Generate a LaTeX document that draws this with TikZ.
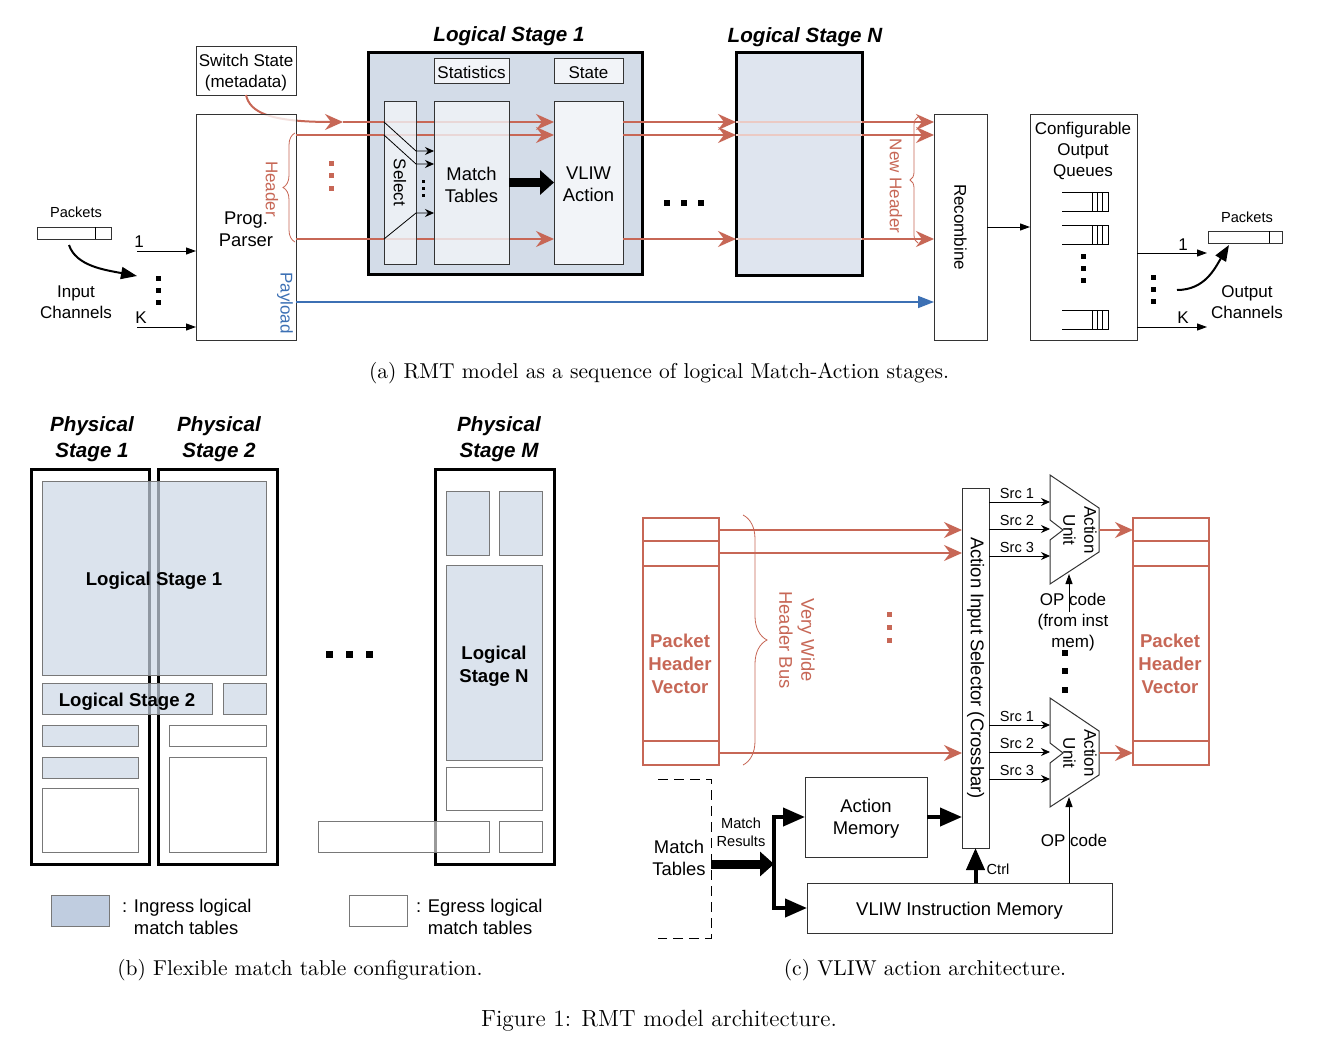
\documentclass[tikz,border=0pt]{standalone}
\usepackage{fontspec}
\setsansfont{Liberation Sans}
\usetikzlibrary{arrows.meta,fit,decorations.pathreplacing}
\begin{document}
\begin{tikzpicture}[x=0.5pt,y=-0.5pt,
  every node/.style={inner sep=0pt,outer sep=0pt},
  lblr/.style={font=\sffamily\fontsize{9.2}{11}\selectfont,align=center},
  midr/.style={font=\sffamily\fontsize{8.5}{10.5}\selectfont,align=center},
  lbl/.style={lblr,yshift=-1pt},
  mid/.style={midr,yshift=-1pt},
  sml/.style={font=\sffamily\fontsize{7.3}{9}\selectfont,align=center},
  bfont/.style={font=\sffamily\bfseries\fontsize{9.3}{11.5}\selectfont,align=center,yshift=-1.5pt},
  ttl/.style={font=\sffamily\bfseries\itshape\fontsize{10.3}{13}\selectfont,align=center,yshift=-1pt},
  captxt/.style={font=\rmfamily\fontsize{10.75}{13}\selectfont,yshift=-1pt},
  box/.style={draw=black!80,line width=0.5pt,fill=white},
  stg/.style={draw=black,line width=1.5pt},
  ing/.style={draw=edgeColor,line width=0.5pt,fill=ingFill,fill opacity=0.7,text opacity=1},
  egr/.style={draw=edgeColor,line width=0.5pt,fill=white},
  hdr/.style={draw=hdrColor,line width=1pt,-{Stealth[length=9pt,width=8pt,inset=3pt]}},
  pay/.style={draw=plColor,line width=0.8pt,-{Triangle[length=8pt,width=6pt]}},
  blk/.style={draw=black,line width=0.5pt,-{Triangle[length=5pt,width=3.5pt]}},
  sarr/.style={draw=black,line width=0.4pt,-{Stealth[length=4.5pt,width=4pt,inset=1.5pt]}},
  crv/.style={draw=black,line width=1pt,-{Triangle[length=8pt,width=6pt]}},
  fat/.style={draw=black,line width=2pt,-{Triangle[length=11pt,width=9pt]}},
  fatwide/.style={draw=black,line width=4.5pt,-{Triangle[length=7pt,width=12pt]}},
  brc/.style={draw=hdrColor,line width=0.4pt,decorate}]
\definecolor{hdrColor}{RGB}{199,103,86}
\definecolor{plColor}{RGB}{60,112,180}
\definecolor{ls1Fill}{RGB}{211,220,232}
\definecolor{lsnFill}{RGB}{223,229,239}
\definecolor{inFill}{RGB}{242,244,248}
\definecolor{ingFill}{RGB}{205,216,230}
\definecolor{legFill}{RGB}{192,205,224}
\definecolor{edgeColor}{RGB}{120,120,120}
\path[use as bounding box,fill=white] (0,0) rectangle (1318,1044);
\begin{scope}

\node[ttl] (ls1t) at (509,34) {Logical Stage 1};

\node[ttl] (lsnt) at (805,35) {Logical Stage N};

\node[box,fit={(196,46) (296,95)}] (sw) {};

\node[mid] (swt) at (sw.center) {Switch State\\(metadata)};

\coordinate (mIn) at (343,122);

\draw[hdr] (sw.south) .. controls (250,112) and (268,122) .. (mIn);

\node[box,fill opacity=0.8,fit={(196,114) (296,340)}] (parser) {};

\node[lbl] (parsert) at (parser.center) {Prog.\\Parser};

\node[box,stg,fill=ls1Fill,fit={(368,52) (642,274)}] (ls1) {};

\node[box,fill=inFill,fit={(434,58) (509,83)}] (stats) {};

\node[mid] (statst) at (stats.center) {Statistics};

\node[box,fill=inFill,fit={(554,58) (623,83)}] (state) {};

\node[mid] (statet) at (state.center) {State};

\node[box,fill=inFill,fit={(554,101) (623,264)}] (vliw) {};

\node[lbl] (vliwt) at (vliw.center) {VLIW\\Action};

\coordinate (h1) at (0,122);
\coordinate (h2) at (0,135);
\coordinate (h3) at (0,239);

\draw[hdr] (mIn) -- (vliw.west |- h1);

\foreach \r in {h2,h3}
  \draw[hdr] (parser.east |- \r) -- (vliw.west |- \r);

\node[box,fill=inFill,fill opacity=0.8,fit={(384,101) (416,264)}] (sel) {};

\node[midr,rotate=-90] (selt) at (sel.center) {Select};

\node[box,fill=inFill,fill opacity=0.8,fit={(434,101) (509,264)}] (mt) {};

\node[lbl] (mtt) at (mt.center) {Match\\Tables};

\coordinate (s1) at (0,151);
\coordinate (s2) at (0,164);
\coordinate (s3) at (0,213);

\draw[sarr] (sel.west |- h1) -- (sel.east |- s1) -- (mt.west |- s1);

\draw[sarr] (sel.west |- h2) -- (sel.east |- s2) -- (mt.west |- s2);

\draw[sarr] (sel.west |- h3) -- (sel.east |- s3) -- (mt.west |- s3);

\foreach \y in {181,188,195}
  \fill (421.5,\y-1.5) rectangle ++(3,3);

\draw[fatwide] (mt.east) -- (vliw.west);

\draw[brc,decoration={brace,amplitude=6pt}] (295,242) -- (295,133);

\node[midr,rotate=-90,text=hdrColor] (hdrt) at (272,189) {Header};

\node[midr,rotate=-90,text=plColor] (plt) at (285,303) {Payload};

\foreach \y in {163,175,188}
  \fill[hdrColor] (328.5,\y-2.5) rectangle ++(5,5);

\node[box,stg,fill=lsnFill,fit={(736,52) (862,275)}] (lsn) {};

\node[box,fit={(934,114) (987,340)}] (rec) {};

\node[midr,rotate=-90] (rect) at (rec.center) {Recombine};

\foreach \r in {h1,h2,h3} {
  \draw[hdr] (vliw.east |- \r) -- (lsn.west |- \r);
  \draw[hdrColor!35,line width=1pt] (lsn.west |- \r) -- (lsn.east |- \r);
  \draw[hdr] (lsn.east |- \r) -- (rec.west |- \r);
}

\foreach \x in {667,684,701}
  \fill (\x-3,200) rectangle ++(6,6);

\draw[brc,decoration={brace,amplitude=4pt}] (918,243) -- (918,117);

\node[midr,rotate=-90,text=hdrColor] (nht) at (896,186) {New Header};

\coordinate (pl) at (0,302);

\draw[pay] (parser.east |- pl) -- (rec.west |- pl);

\node[sml] (pkin) at (76,212) {Packets};

\node[box,line width=0.4pt,fit={(37,227) (111,239)}] (pin) {};

\draw[line width=0.4pt] ([xshift=-8pt]pin.north east) -- ([xshift=-8pt]pin.south east);

\coordinate (cin) at (137,276);

\draw[crv] ([xshift=-2.5pt,yshift=-3pt]pin.south) .. controls (76,266) and (105,270) .. (cin);

\node[mid] (intxt) at (76,300) {Input\\Channels};

\coordinate (i1) at (137,251);
\coordinate (iK) at (137,327);

\draw[blk] (i1) -- (parser.west |- i1);

\draw[blk] (iK) -- (parser.west |- iK);

\node[midr] (i1t) at (139,242) {1};

\node[midr] (iKt) at (141,318) {K};

\foreach \y in {278,290,302}
  \fill (155.5,\y-2.5) rectangle ++(5,5);

\node[box,fit={(1030,114) (1137,340)}] (oq) {};

\node[mid] (oqt) at (1083,149) {Configurable\\Output\\Queues};

\draw[blk] (rec.east) -- (oq.west);

\foreach \t in {192,225,310} {
  \draw[line width=0.4pt] (1062,\t) -- (1108,\t) -- (1108,\t+19) -- (1062,\t+19);
  \foreach \q in {1092,1097,1102}
    \draw[line width=0.4pt] (\q,\t) -- (\q,\t+19);
}

\foreach \y in {256,268,280}
  \fill (1080.5,\y-2.5) rectangle ++(5,5);

\coordinate (o1) at (1207,253);
\coordinate (oK) at (1207,327);

\draw[blk] (oq.east |- o1) -- (o1);

\draw[blk] (oq.east |- oK) -- (oK);

\node[midr] (o1t) at (1183,245) {1};

\node[midr] (oKt) at (1183,318) {K};

\foreach \y in {277,289,301}
  \fill (1150.5,\y-2.5) rectangle ++(5,5);

\node[sml] (pkout) at (1247,217) {Packets};

\node[box,line width=0.4pt,fit={(1208,231) (1282,243)}] (pout) {};

\draw[line width=0.4pt] ([xshift=-6.5pt]pout.north east) -- ([xshift=-6.5pt]pout.south east);

\coordinate (cout) at (1177,290);

\draw[crv] (cout) .. controls (1205,290) and (1215,268) .. ([xshift=-8pt,yshift=-1pt]pout.south);

\node[mid] (outt) at (1247,300) {Output\\Channels};

\node[captxt] (capa) at (659,371) {(a) RMT model as a sequence of logical Match-Action stages.};
\end{scope}
\begin{scope}

\node[ttl] (ps1t) at (92,437) {Physical\\Stage 1};

\node[ttl] (ps2t) at (219,437) {Physical\\Stage 2};

\node[ttl] (psmt) at (499,437) {Physical\\Stage M};

\node[stg,fit={(31,469) (149,864)}] (ps1) {};

\node[stg,fit={(158,469) (277,864)}] (ps2) {};

\node[stg,fit={(435,469) (554,864)}] (psm) {};

\node[ing,fit={(42,481) (266,675)}] (l1) {};

\node[bfont] (l1t) at (l1.center) {Logical Stage 1};

\node[ing,fit={(42,683) (212,714)}] (l2) {};

\node[bfont] (l2t) at (l2.center) {Logical Stage 2};

\node[ing,fit={(223,683) (266,714)}] (l2b) {};

\node[ing,fit={(42,725) (138,746)}] (p1a) {};

\node[ing,fit={(42,757) (138,778)}] (p1b) {};

\node[egr,fit={(42,788) (138,852)}] (p1c) {};

\node[egr,fit={(169,725) (266,746)}] (p2a) {};

\node[egr,fit={(169,757) (266,852)}] (p2b) {};

\node[ing,fit={(446,491) (489,555)}] (pma) {};

\node[ing,fit={(499,491) (542,555)}] (pmb) {};

\node[ing,fit={(446,565) (542,760)}] (ln) {};

\node[bfont,yshift=-0.5pt] (lnt) at (ln.center) {Logical\\Stage N};

\node[egr,fit={(446,767) (542,810)}] (pmc) {};

\node[egr,fill opacity=0.6,fit={(318,821) (489,852)}] (pmd) {};

\node[egr,fit={(499,821) (542,852)}] (pme) {};

\foreach \x in {329,349,369}
  \fill (\x-3.5,650.5) rectangle ++(7,7);

\node[draw=edgeColor,line width=0.5pt,fill=legFill,fit={(51,895) (109,926)}] (legi) {};

\node[lblr,align=left,anchor=west] (legit) at (122,917) {: Ingress logical\\\phantom{: }match tables};

\node[egr,fit={(349,895) (407,926)}] (lege) {};

\node[lblr,align=left,anchor=west] (leget) at (416,917) {: Egress logical\\\phantom{: }match tables};

\node[captxt] (capb) at (300,968) {(b) Flexible match table configuration.};
\end{scope}
\begin{scope}

\node[draw=hdrColor,line width=1.1pt,fit={(643,518) (719,765)}] (phvl) {};

\node[draw=hdrColor,line width=1.1pt,fit={(1133,518) (1209,765)}] (phvr) {};

\foreach \y in {541,566,741} {
  \draw[hdrColor,line width=1.1pt] (phvl.west |- 0,\y) -- (phvl.east |- 0,\y);
  \draw[hdrColor,line width=1.1pt] (phvr.west |- 0,\y) -- (phvr.east |- 0,\y);
}

\node[bfont,text=hdrColor] (phvlt) at (680,661) {Packet\\Header\\Vector};

\node[bfont,text=hdrColor] (phvrt) at (1170,661) {Packet\\Header\\Vector};

\node[box,fit={(962,488) (989,848)}] (xbar) {};

\node[lblr,rotate=-90] (xbart) at (xbar.center) {Action Input Selector (Crossbar)};

\foreach \y in {530,553,753}
  \draw[hdr] (phvl.east |- 0,\y) -- (xbar.west |- 0,\y);

\draw[brc,decoration={brace,amplitude=12pt}] (743,515) -- (743,765);

\node[lblr,rotate=-90,text=hdrColor] (vwt) at (797,640) {Very Wide\\Header Bus};

\foreach \y in {614,627,640}
  \fill[hdrColor] (886.5,\y-2.5) rectangle ++(5,5);

\foreach \d/\n in {0/1,223/2} {
  \draw[box] (1050,475+\d) -- (1099,508+\d) -- (1099,552+\d) -- (1050,584+\d) -- (1050,540+\d) -- (1063,530+\d) -- (1050,520+\d) -- cycle;
  \coordinate (au\n) at (1050,475+\d);
  \node[midr,rotate=-90] (au\n t) at (1080,530+\d) {Action\\Unit};
  \foreach \s/\y in {1/502,2/529,3/556} {
    \draw[sarr] (xbar.east |- 0,\y+\d) -- (au\n |- 0,\y+\d);
    \node[sml] (src\n\s) at (1017,\y+\d-9) {Src \s};
  }
  \draw[hdr] (1099,530+\d) -- (phvr.west |- 0,530+\d);
}

\coordinate (au1b) at (1069,574);
\coordinate (au2b) at (1069,797);

\node[mid] (op1t) at (1073,620) {OP code\\(from inst\\mem)};

\draw[blk] (1069,612) -- (au1b);

\foreach \y in {653,671,690}
  \fill (1062,\y-3) rectangle ++(6,6);

\draw[line width=0.5pt,dash pattern=on 5pt off 3pt] (658,779) -- (711,779) -- (711,938) -- (658,938);

\node[lbl] (mtabt) at (679,856) {Match\\Tables};

\coordinate (mtR) at (711,864);
\coordinate (br) at (774,864);

\draw[fatwide] (mtR) -- (br);

\node[sml] (mres) at (741,832) {Match\\Results};

\node[box,fit={(805,777) (927,857)}] (am) {};

\node[lbl] (amt) at (am.center) {Action\\Memory};

\node[box,fit={(807,883) (1112,933)}] (vim) {};

\node[lbl,yshift=-0.5pt] (vimt) at (vim.center) {VLIW Instruction Memory};

\draw[fat] (br) |- (am.west);

\draw[fat] (br) |- (vim.west);

\draw[fat] (am.east) -- (xbar.west |- am.east);

\draw[fat] (vim.north -| xbar.south) -- (xbar.south);

\node[sml] (ctrl) at (998,869) {Ctrl};

\node[mid] (op2t) at (1074,838) {OP code};

\draw[blk] (vim.north -| au2b) -- (au2b);

\node[captxt] (capc) at (925,968) {(c) VLIW action architecture.};

\node[font=\rmfamily\fontsize{11.7}{14}\selectfont,yshift=-1pt] (capf) at (659,1019) {Figure 1: RMT model architecture.};
\end{scope}
\end{tikzpicture}
\end{document}
